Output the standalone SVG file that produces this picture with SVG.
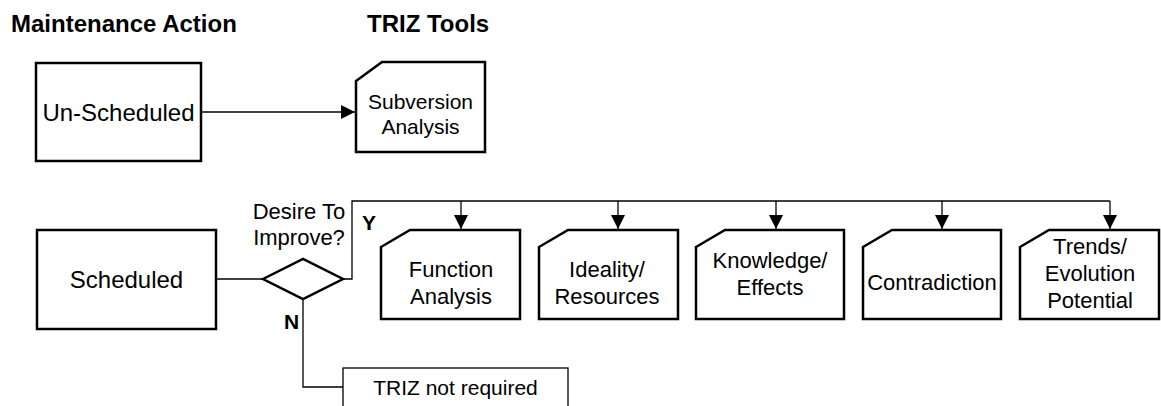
<svg xmlns="http://www.w3.org/2000/svg" width="1161" height="406" viewBox="0 0 1161 406">
  <style>
    .title { font-family: "Liberation Sans", Arial, sans-serif; font-weight: bold; font-size: 24px; fill: #000; }
    .big { font-family: "Liberation Sans", Arial, sans-serif; font-size: 24px; fill: #000; text-anchor: middle; }
    .lbl { font-family: "Liberation Sans", Arial, sans-serif; font-size: 21px; fill: #000; text-anchor: middle; }
    .tool { font-family: "Liberation Sans", Arial, sans-serif; font-size: 22px; fill: #000; text-anchor: middle; }
    .yn { font-family: "Liberation Sans", Arial, sans-serif; font-weight: bold; font-size: 21px; fill: #000; }
    .box { fill: #fff; stroke: #000; stroke-width: 2.5; }
    .thin { fill: #fff; stroke: #000; stroke-width: 1.3; }
    .conn { fill: none; stroke: #000; stroke-width: 1.3; }
  </style>
  <defs>
    <marker id="arrow" viewBox="0 0 10 10" refX="10" refY="5" markerWidth="14" markerHeight="14" markerUnits="userSpaceOnUse" orient="auto">
      <path d="M0,0 L10,5 L0,10 Z" fill="#000"/>
    </marker>
  </defs>

  <rect width="1161" height="406" fill="#fff"/>

  <!-- column headings -->
  <text class="title" x="11" y="32">Maintenance Action</text>
  <text class="title" x="367" y="32">TRIZ Tools</text>

  <!-- connectors -->
  <g id="connectors">
    <line class="conn" x1="201" y1="112" x2="355" y2="112" marker-end="url(#arrow)"/>
    <line class="conn" x1="216" y1="279" x2="263" y2="279"/>
    <polyline class="conn" points="343,279 352,279 352,201 1110,201"/>
    <line class="conn" x1="461" y1="201" x2="461" y2="229" marker-end="url(#arrow)"/>
    <line class="conn" x1="618" y1="201" x2="618" y2="229" marker-end="url(#arrow)"/>
    <line class="conn" x1="776" y1="201" x2="776" y2="229" marker-end="url(#arrow)"/>
    <line class="conn" x1="942" y1="201" x2="942" y2="229" marker-end="url(#arrow)"/>
    <line class="conn" x1="1110" y1="201" x2="1110" y2="229" marker-end="url(#arrow)"/>
    <polyline class="conn" points="303,299 303,387 343,387"/>
    <text class="yn" x="362" y="230">Y</text>
    <text class="yn" x="284" y="329">N</text>
  </g>

  <!-- maintenance actions -->
  <g id="unscheduled">
    <rect class="box" x="36" y="63" width="165" height="98"/>
    <text class="big" x="118.5" y="121">Un-Scheduled</text>
  </g>
  <g id="scheduled">
    <rect class="box" x="37" y="230" width="179" height="99"/>
    <text class="big" x="126.5" y="288">Scheduled</text>
  </g>

  <!-- decision -->
  <g id="decision">
    <polygon class="box" points="263,279 303,259 343,279 303,299"/>
    <text class="tool" x="299" y="219">Desire To</text>
    <text class="tool" x="299" y="245">Improve?</text>
  </g>

  <!-- TRIZ tools -->
  <g id="subversion">
    <path class="box" d="M356,81 L382,62 L485,62 L485,152 L356,152 Z"/>
    <text class="lbl" x="420.5" y="109">Subversion</text>
    <text class="lbl" x="420.5" y="134">Analysis</text>
  </g>
  <g id="function">
    <path class="box" d="M381,247 L410,230 L520,230 L520,319 L381,319 Z"/>
    <text class="tool" x="451" y="277">Function</text>
    <text class="tool" x="451" y="304">Analysis</text>
  </g>
  <g id="ideality">
    <path class="box" d="M539,247 L568,230 L678,230 L678,319 L539,319 Z"/>
    <text class="tool" x="607" y="277">Ideality/</text>
    <text class="tool" x="607" y="304">Resources</text>
  </g>
  <g id="knowledge">
    <path class="box" d="M696,247 L725,230 L844,230 L844,319 L696,319 Z"/>
    <text class="tool" x="770" y="268">Knowledge/</text>
    <text class="tool" x="770" y="295">Effects</text>
  </g>
  <g id="contradiction">
    <path class="box" d="M863,247 L892,230 L1001,230 L1001,319 L863,319 Z"/>
    <text class="tool" x="932" y="290">Contradiction</text>
  </g>
  <g id="trends">
    <path class="box" d="M1020,247 L1049,230 L1159,230 L1159,319 L1020,319 Z"/>
    <text class="tool" x="1090" y="254">Trends/</text>
    <text class="tool" x="1090" y="281">Evolution</text>
    <text class="tool" x="1090" y="308">Potential</text>
  </g>

  <!-- outcome when no improvement is wanted -->
  <g id="not-required">
    <rect class="thin" x="343" y="368" width="225" height="45"/>
    <text class="lbl" x="455.5" y="395">TRIZ not required</text>
  </g>
</svg>
